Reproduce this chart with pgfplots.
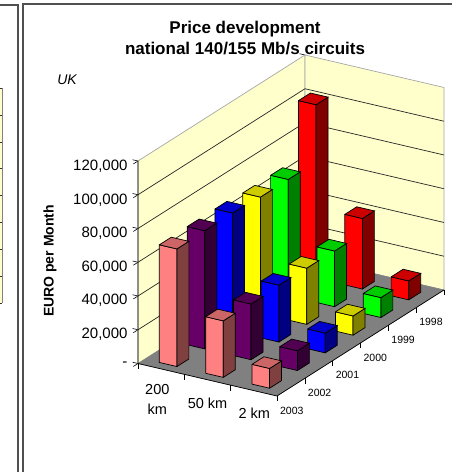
\documentclass[border=0pt]{standalone}
\usepackage{pgfplots}
\pgfplotsset{compat=1.18}
\usepackage{fontspec}
\setmainfont{Liberation Sans}
\definecolor{wall}{HTML}{FFFFCC}
\definecolor{floorc}{HTML}{808080}
\definecolor{pinkb}{HTML}{FF8080}
\definecolor{purpb}{HTML}{660066}
\definecolor{blueb}{HTML}{0000FF}
\definecolor{yellb}{HTML}{FFFF00}
\definecolor{greenb}{HTML}{00FF00}
\definecolor{redb}{HTML}{FF0000}
\definecolor{frame}{HTML}{505050}
% \Bar{xlo}{xhi}{ylo}{yhi}{value}{colour}
\newcommand{\Bar}[6]{%
\addplot3[fill=#6,draw=black,line width=0.7pt,mark=none,forget plot] coordinates {(#1,#3,0)(#2,#3,0)(#2,#3,#5)(#1,#3,#5)(#1,#3,0)};
\addplot3[fill=#6!50!black,draw=black,line width=0.7pt,mark=none,forget plot] coordinates {(#2,#3,0)(#2,#4,0)(#2,#4,#5)(#2,#3,#5)(#2,#3,0)};
\addplot3[fill=#6!80!black,draw=black,line width=0.7pt,mark=none,forget plot] coordinates {(#1,#3,#5)(#2,#3,#5)(#2,#4,#5)(#1,#4,#5)(#1,#3,#5)};
}
\begin{document}
\begin{tikzpicture}
\useasboundingbox (0pt,0pt) rectangle (452pt,472pt);
\fill[white] (0pt,0pt) rectangle (452pt,472pt);
% neighbouring panel, cut off at the left edge, and frames
\fill[wall] (0pt,169pt) rectangle (2.5pt,384pt);
\draw[gray,line width=0.7pt] (2.8pt,169pt) -- (2.8pt,384pt);
\foreach \yy in {169,196,223,250,277,304,330,357,384}
  \draw[black!80,line width=0.7pt] (0pt,\yy pt) -- (2pt,\yy pt);
\draw[frame,line width=1.5pt] (18pt,0pt) -- (18pt,467pt) -- (0pt,467pt);
\draw[frame,line width=2pt] (23pt,0pt) -- (23pt,468pt) -- (452pt,468pt);
\begin{axis}[
  at={(138pt,108.5pt)},anchor=origin,
  x={(46.33pt,-10.83pt)},y={(27.83pt,17.67pt)},z={(0pt,1.6875pt)},
  xmin=0,xmax=3,ymin=0,ymax=6,zmin=0,zmax=120,
  clip=false,
  axis line style={draw=none},
  tick align=outside,
  xtick pos=left,ytick pos=right,ztick pos=left,
  yticklabel pos=left,
  tick style={black,line width=0.6pt},
  xtick={0.5,1.5,2.5},
  xticklabels={{200\\km},{50 km},{2 km}},
  ytick={0.5,1.5,2.5,3.5,4.5,5.5},
  yticklabels={2003,2002,2001,2000,1999,1998},
  ztick={0,20,40,60,80,100,120},
  minor ztick={0,20,40,60,80,100,120},
  zticklabels={-,{20,000},{40,000},{60,000},{80,000},{100,000},{120,000}},
  major tick length=0pt,
  minor tick length=5.5pt,
  xticklabel style={font=\fontsize{14.5}{20}\selectfont,align=center,xshift=7pt,yshift=-11pt},
  yticklabel style={font=\fontsize{10.5}{12}\selectfont,xshift=-8pt,yshift=-12pt},
  zticklabel style={font=\fontsize{15}{16}\selectfont,xshift=-7pt},
]
% walls
\addplot3[fill=wall,draw=gray!70,line width=0.7pt,mark=none,forget plot] coordinates {(0,0,0)(0,6,0)(0,6,120)(0,0,120)(0,0,0)};
\addplot3[fill=wall,draw=gray!70,line width=0.7pt,mark=none,forget plot] coordinates {(0,6,0)(3,6,0)(3,6,120)(0,6,120)(0,6,0)};
% gridlines
\addplot3[black!85,line width=0.7pt,mark=none,forget plot] coordinates {(0,0,20)(0,6,20)(3,6,20)};
\addplot3[black!85,line width=0.7pt,mark=none,forget plot] coordinates {(0,0,40)(0,6,40)(3,6,40)};
\addplot3[black!85,line width=0.7pt,mark=none,forget plot] coordinates {(0,0,60)(0,6,60)(3,6,60)};
\addplot3[black!85,line width=0.7pt,mark=none,forget plot] coordinates {(0,0,80)(0,6,80)(3,6,80)};
\addplot3[black!85,line width=0.7pt,mark=none,forget plot] coordinates {(0,0,100)(0,6,100)(3,6,100)};
% floor
\addplot3[fill=floorc,draw=floorc,mark=none,forget plot] coordinates {(0,0,0)(3,0,0)(3,6,0)(0,6,0)(0,0,0)};
\addplot3[black,line width=0.7pt,mark=none,forget plot] coordinates {(0,0,120)(0,0,0)(3,0,0)(3,6,0)};
% vertical tick marks at the category boundaries of the floor
\pgfplotsinvokeforeach{0,1,2,3}{\addplot3[black,line width=0.6pt,mark=none,forget plot] coordinates {(#1,0,0)(#1,0,-3.2)};}
\pgfplotsinvokeforeach{1,2,3,4,5,6}{\addplot3[black,line width=0.6pt,mark=none,forget plot] coordinates {(3,#1,0)(3,#1,-3.2)};}
% bars, back to front
\Bar{0.31}{0.69}{5.25}{5.68}{102.8}{redb}
\Bar{1.31}{1.69}{5.25}{5.68}{41.8}{redb}
\Bar{2.31}{2.69}{5.25}{5.68}{11.2}{redb}
\Bar{0.31}{0.69}{4.25}{4.68}{69}{greenb}
\Bar{1.31}{1.69}{4.25}{4.68}{33}{greenb}
\Bar{2.31}{2.69}{4.25}{4.68}{11.8}{greenb}
\Bar{0.31}{0.69}{3.25}{3.68}{69}{yellb}
\Bar{1.31}{1.69}{3.25}{3.68}{33.3}{yellb}
\Bar{2.31}{2.69}{3.25}{3.68}{11.4}{yellb}
\Bar{0.31}{0.69}{2.25}{2.68}{70}{blueb}
\Bar{1.31}{1.69}{2.25}{2.68}{33.7}{blueb}
\Bar{2.31}{2.69}{2.25}{2.68}{11.7}{blueb}
\Bar{0.31}{0.69}{1.25}{1.68}{70}{purpb}
\Bar{1.31}{1.69}{1.25}{1.68}{33}{purpb}
\Bar{2.31}{2.69}{1.25}{1.68}{11.7}{purpb}
\Bar{0.31}{0.69}{0.25}{0.68}{69.7}{pinkb}
\Bar{1.31}{1.69}{0.25}{0.68}{33.5}{pinkb}
\Bar{2.31}{2.69}{0.25}{0.68}{11.7}{pinkb}
\end{axis}
\node[font=\fontsize{17}{21}\selectfont\bfseries,align=center] at (245pt,433.5pt) {Price development\\national 140/155 Mb/s circuits};
\node[font=\fontsize{14}{16}\selectfont\itshape] at (67pt,392pt) {UK};
\node[font=\fontsize{14}{16}\selectfont\bfseries,rotate=90] at (50pt,211pt) {EURO per Month};
\end{tikzpicture}
\end{document}
